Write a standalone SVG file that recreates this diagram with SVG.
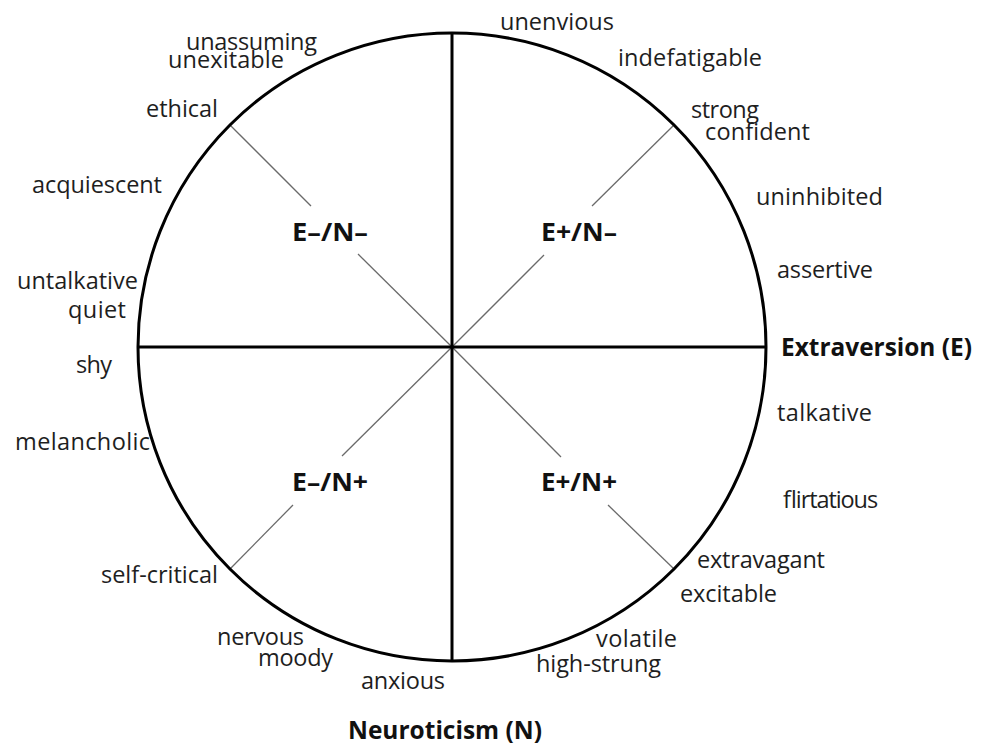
<svg xmlns="http://www.w3.org/2000/svg" width="981" height="746" viewBox="0 0 981 746">
<style>
.t{font-family:"Open Sans","Noto Sans","Liberation Sans",sans-serif;font-size:23.5px;fill:#1e1e1e}
.b{font-family:"Open Sans","Noto Sans","Liberation Sans",sans-serif;font-size:24.5px;font-weight:bold;fill:#111}
.q{font-family:"Open Sans","Noto Sans","Liberation Sans",sans-serif;font-size:25.5px;font-weight:bold;fill:#111}
.ax{stroke:#000;stroke-width:3;fill:none}
.dg{stroke:#6a6a6a;stroke-width:1.3;fill:none}
</style>
<rect width="981" height="746" fill="#fff"/>
<g id="connectors">
<line class="dg" x1="230" y1="125" x2="311" y2="206"/>
<line class="dg" x1="358" y1="254" x2="452" y2="347"/>
<line class="dg" x1="674" y1="125" x2="592" y2="206"/>
<line class="dg" x1="544" y1="255" x2="452" y2="347"/>
<line class="dg" x1="452" y1="347" x2="342" y2="456"/>
<line class="dg" x1="293" y1="505" x2="230" y2="569"/>
<line class="dg" x1="452" y1="347" x2="561" y2="457"/>
<line class="dg" x1="608" y1="505" x2="674" y2="569"/>
<line class="ax" x1="452" y1="33" x2="452" y2="661"/>
<line class="ax" x1="138" y1="347" x2="766" y2="347"/>
</g>
<g id="circle"><circle class="ax" cx="452" cy="347" r="314"/></g>
<g id="quadrants">
<text class="q" x="292" y="241" textLength="76" lengthAdjust="spacingAndGlyphs">E–/N–</text>
<text class="q" x="541" y="241" textLength="76" lengthAdjust="spacingAndGlyphs">E+/N–</text>
<text class="q" x="292" y="491" textLength="76" lengthAdjust="spacingAndGlyphs">E–/N+</text>
<text class="q" x="541" y="491" textLength="76" lengthAdjust="spacingAndGlyphs">E+/N+</text>
</g>
<g id="axis-labels">
<text class="b" x="781" y="356" textLength="191" lengthAdjust="spacingAndGlyphs">Extraversion (E)</text>
<text class="b" x="348" y="739" textLength="194" lengthAdjust="spacingAndGlyphs">Neuroticism (N)</text>
</g>
<g id="traits">
<text class="t" x="500" y="30" textLength="114">unenvious</text>
<text class="t" x="618" y="66" textLength="144">indefatigable</text>
<text class="t" x="691" y="118" textLength="68">strong</text>
<text class="t" x="705" y="140" textLength="105">confident</text>
<text class="t" x="756" y="205" textLength="127">uninhibited</text>
<text class="t" x="777" y="278" textLength="96">assertive</text>
<text class="t" x="777" y="421" textLength="95">talkative</text>
<text class="t" x="782" y="508" textLength="95">flirtatious</text>
<text class="t" x="697" y="568" textLength="128">extravagant</text>
<text class="t" x="680" y="602" textLength="97">excitable</text>
<text class="t" x="596" y="647" textLength="81">volatile</text>
<text class="t" x="536" y="672" textLength="125">high-strung</text>
<text class="t" x="361" y="689" textLength="84">anxious</text>
<text class="t" x="217" y="645" textLength="87">nervous</text>
<text class="t" x="258" y="666" textLength="75">moody</text>
<text class="t" x="101" y="583" textLength="117">self-critical</text>
<text class="t" x="15" y="450" textLength="135">melancholic</text>
<text class="t" x="76" y="373" textLength="36">shy</text>
<text class="t" x="17" y="289" textLength="121">untalkative</text>
<text class="t" x="68" y="318" textLength="58">quiet</text>
<text class="t" x="32" y="193" textLength="130">acquiescent</text>
<text class="t" x="146" y="117" textLength="72">ethical</text>
<text class="t" x="168" y="68" textLength="116">unexitable</text>
<text class="t" x="186" y="50" textLength="131">unassuming</text>
</g>
</svg>
